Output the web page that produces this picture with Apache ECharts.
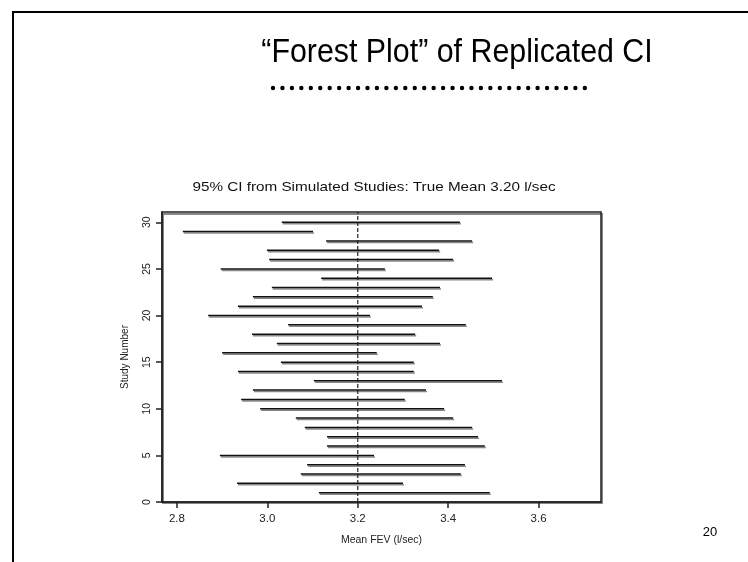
<!DOCTYPE html>
<html><head><meta charset="utf-8">
<script src="https://cdn.jsdelivr.net/npm/echarts@6/dist/echarts.min.js"></script>
<style>html,body{margin:0;padding:0;background:#fff}#c{width:748px;height:562px}</style>
</head><body><div id="c"></div>
<script>
// Study numbers and their 95% CI bounds (l/sec)
const studies = [1,2,3,4,5,6,7,8,9,10,11,12,13,14,15,16,17,18,19,20,21,22,23,24,25,26,27,28,29,30];
const lower = [3.114,2.933,3.074,3.088,2.895,3.132,3.132,3.083,3.063,2.984,2.942,2.968,3.103,2.935,3.030,2.900,3.021,2.966,3.046,2.869,2.935,2.968,3.010,3.119,2.897,3.004,2.999,3.130,2.813,3.032];
const upper = [3.492,3.300,3.428,3.437,3.236,3.481,3.466,3.453,3.411,3.391,3.304,3.351,3.519,3.324,3.324,3.242,3.382,3.327,3.439,3.227,3.342,3.366,3.382,3.497,3.260,3.411,3.380,3.453,3.101,3.426];
const trueMean = 3.2;
const xTicks = [2.8, 3.0, 3.2, 3.4, 3.6];
const yTicks = [0, 5, 10, 15, 20, 25, 30];

const segData = studies.map((s, i) => [lower[i], upper[i], s]);
const chartFont = 'Liberation Sans, Arial, sans-serif';

const chart = echarts.init(document.getElementById('c'), null, {renderer: 'canvas'});
chart.setOption({
  animation: false,
  backgroundColor: '#fff',
  graphic: [
    {type: 'polyline', shape: {points: [[13, 562], [13, 12], [748, 12]]}, style: {stroke: '#000', lineWidth: 2, fill: null}},
    {type: 'text', x: 457, y: 53, scaleX: 0.92,
     style: {text: '\u201CForest Plot\u201D of Replicated CI', align: 'center', verticalAlign: 'middle',
       font: 'normal 33px Liberation Sans, Arial, sans-serif', fill: '#000'}},
    {type: 'line', shape: {x1: 273, y1: 88, x2: 585, y2: 88}, style: {stroke: '#000', lineWidth: 4.4, lineCap: 'round', lineDash: [0, 9.45]}},
    {type: 'text', x: 374, y: 187, scaleX: 1.13,
     style: {text: '95% CI from Simulated Studies: True Mean 3.20 l/sec', align: 'center', verticalAlign: 'middle',
       font: 'normal 13.5px Liberation Sans, Arial, sans-serif', fill: '#111',
       textShadowColor: '#999', textShadowOffsetX: 1, textShadowOffsetY: 1, textShadowBlur: 0}},
    {type: 'text', x: 710, y: 532,
     style: {text: '20', align: 'center', verticalAlign: 'middle', font: 'normal 13px Liberation Sans, Arial, sans-serif', fill: '#000'}},
    {type: 'rect', shape: {x: 163, y: 214, width: 439, height: 289}, style: {stroke: '#888', lineWidth: 2, fill: null}, z: -1}
  ],
  grid: {left: 162, right: 147, top: 212, bottom: 60, show: true, borderColor: '#222', borderWidth: 1.5, backgroundColor: 'transparent'},
  xAxis: {
    type: 'value', min: 2.767, max: 3.738,
    name: 'Mean FEV (l/sec)', nameLocation: 'middle', nameGap: 33,
    nameTextStyle: {fontFamily: chartFont, fontSize: 10.5, color: '#222'},
    splitLine: {show: false},
    axisLine: {show: true, onZero: false, lineStyle: {color: '#222', width: 1.5}},
    axisTick: {show: true, inside: false, length: 6, customValues: xTicks, lineStyle: {color: '#222', width: 1.5}},
    axisLabel: {customValues: xTicks, formatter: v => v.toFixed(1), margin: 11,
      fontFamily: chartFont, fontSize: 11.5, color: '#222'}
  },
  yAxis: {
    type: 'value', min: 0, max: 31.1,
    name: 'Study Number', nameLocation: 'middle', nameGap: 32, nameRotate: 90,
    nameTextStyle: {fontFamily: chartFont, fontSize: 10, color: '#222'},
    splitLine: {show: false},
    axisLine: {show: true, onZero: false, lineStyle: {color: '#222', width: 1.5}},
    axisTick: {show: true, inside: false, length: 6, customValues: yTicks, lineStyle: {color: '#222', width: 1.5}},
    axisLabel: {customValues: yTicks, rotate: 90, margin: 9,
      fontFamily: chartFont, fontSize: 10.5, color: '#222'}
  },
  series: [
    {
      type: 'custom',
      data: segData,
      encode: {x: [0, 1], y: 2},
      renderItem: function (params, api) {
        const a = api.coord([api.value(0), api.value(2)]);
        const b = api.coord([api.value(1), api.value(2)]);
        return {
          type: 'group',
          children: [
            {type: 'line', shape: {x1: a[0] + 1, y1: a[1] + 1.5, x2: b[0] + 1, y2: b[1] + 1.5}, style: {stroke: '#888', lineWidth: 1.5}},
            {type: 'line', shape: {x1: a[0], y1: a[1], x2: b[0], y2: b[1]}, style: {stroke: '#111', lineWidth: 1.5}}
          ]
        };
      },
      z: 3
    },
    {
      type: 'line',
      data: [[trueMean, 0], [trueMean, 31.1]],
      symbol: 'none',
      lineStyle: {color: '#222', width: 1.2, type: [4, 2]},
      z: 4
    }
  ]
});
</script>
</body></html>
